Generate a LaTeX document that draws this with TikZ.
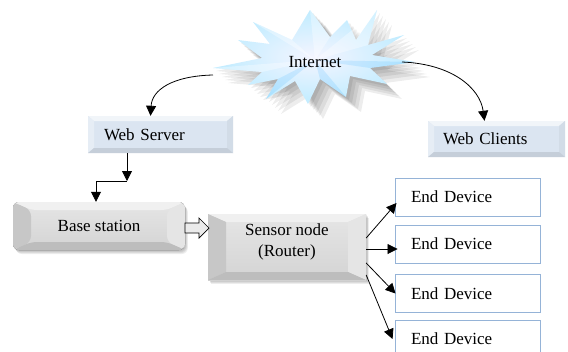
\documentclass[tikz,border=0pt]{standalone}
\usepackage{fontspec}
\setmainfont{Liberation Serif}
\newfontfamily\tnr{Liberation Serif}
\usetikzlibrary{arrows.meta,calc}
\definecolor{edgeblue}{HTML}{95B3D7}
\definecolor{wsblue}{HTML}{DBE5F1}
\newcommand\inetstar{(213,68) -- (262,58) -- (238,40) -- (270,44) -- (253,22) -- (292,40) -- (310,10) -- (330,37) -- (347,20) -- (356,40) -- (377,10) -- (368,45) -- (404,35) -- (372,55) -- (415,62) -- (370,68) -- (387,84) -- (350,76) -- (346,97) -- (320,79) -- (308,104) -- (295,81) -- (266,99) -- (278,79) -- (248,85) -- (262,72) -- cycle}
\tikzset{
  bevel/.style n args={7}{path picture={
    \coordinate (NW) at (path picture bounding box.north west);
    \coordinate (NE) at (path picture bounding box.north east);
    \coordinate (SW) at (path picture bounding box.south west);
    \coordinate (SE) at (path picture bounding box.south east);
    \fill[#7] (SW) rectangle (NE);
    \fill[#3] (NW) -- (NE) -- ([shift={(-#1pt,-#2pt)}]NE) -- ([shift={(#1pt,-#2pt)}]NW) -- cycle;
    \fill[#4] (NW) -- ([shift={(#1pt,-#2pt)}]NW) -- ([shift={(#1pt,#2pt)}]SW) -- (SW) -- cycle;
    \fill[#5] (NE) -- ([shift={(-#1pt,-#2pt)}]NE) -- ([shift={(-#1pt,#2pt)}]SE) -- (SE) -- cycle;
    \fill[#6] (SW) -- ([shift={(#1pt,#2pt)}]SW) -- ([shift={(-#1pt,#2pt)}]SE) -- (SE) -- cycle;
  }},
  webbox/.style={inner ysep=0pt, align=left,
    bevel={6}{5}{white!60!wsblue}{white!30!wsblue}{black!4!wsblue}{black!10!wsblue}{fill=wsblue}},
  graybox/.style={inner sep=0pt, align=center,
    bevel={18}{8}{black!6}{black!22}{black!10}{black!26}{top color=black!10,bottom color=black!17}},
  enddev/.style={draw=edgeblue, line width=0.9pt, fill=white, align=left,
    minimum width=145pt, text width=113pt, inner xsep=16pt, minimum height=38pt},
  arr/.style={line width=0.8pt, -{Triangle[length=10pt,width=10pt]}},
  hollow/.style={draw=black, line width=0.7pt, fill=black!8}
}
\begin{document}
\begin{tikzpicture}[x=1pt,y=-1pt,font=\tnr\fontsize{17}{21}\selectfont]
\clip (0,0) rectangle (568,351);
\fill[white] (0,0) rectangle (568,351);

% Internet starburst with soft shadow
\foreach \s in {3,6,9,12,15}{
  \fill[black,opacity=0.07,shift={(\s,\s)}] \inetstar;
}
\shade[inner color=blue!4!white, outer color=blue!30!cyan!25!white] \inetstar;
\fill[white,opacity=0.35] (253,22) -- (292,40) -- (315,60) -- cycle;
\fill[white,opacity=0.35] (310,10) -- (330,37) -- (315,60) -- cycle;
\fill[white,opacity=0.35] (377,10) -- (368,45) -- (315,60) -- cycle;
\fill[white,opacity=0.35] (213,68) -- (262,72) -- (315,60) -- cycle;
\fill[blue!40!cyan,opacity=0.12] (346,97) -- (320,79) -- (315,60) -- cycle;
\fill[blue!40!cyan,opacity=0.12] (266,99) -- (278,79) -- (315,60) -- cycle;
\fill[blue!40!cyan,opacity=0.12] (415,62) -- (370,68) -- (315,60) -- cycle;
\node (inet) at (315,62) {Internet};

% shadows of gray boxes
\foreach \s in {1,2,3,4}{
  \fill[black,opacity=0.07,rounded corners=6pt] (13+\s*0.7,202+\s) rectangle (185+\s*0.7,250+\s);
  \fill[black,opacity=0.07] (208+\s*0.8,214+\s) rectangle (366+\s*0.8,280+\s);
}

% web boxes
\node[webbox, minimum width=145pt, text width=113pt, inner xsep=16pt, minimum height=37pt] (ws) at (160.5,134.5) {Web Server};
\node[webbox, minimum width=137pt, text width=107pt, inner xsep=15pt, minimum height=36pt] (wc) at (496.5,139) {Web Clients};

% gray boxes
\node[graybox, rounded corners=6pt, minimum width=172pt, minimum height=48pt] (bs) at (99,226) {Base station};
\node[graybox, minimum width=158pt, minimum height=66pt] (sn) at (287,247) {};
\node[align=center, inner sep=0pt] (snt) at ([yshift=5pt]sn.center) {Sensor node\\(Router)};

% end devices
\node[enddev] (ed1) at (467.5,197) {End Device};
\node[enddev] (ed2) at (467.5,244) {End Device};
\node[enddev] (ed3) at (467.5,293.5) {End Device};
\node[enddev] (ed4) at (467.5,339) {End Device};

% internet connectors
\coordinate (inetL) at (213,75);
\coordinate (inetR) at (402,62);
\draw[arr] (inetL) .. controls (172,76) and (152,90) .. ([xshift=-10pt]ws.north);
\draw[arr] (inetR) .. controls (452,64) and (480,88) .. ([xshift=-12pt]wc.north);

% web server to base station elbow
\coordinate (bend) at (127,181);
\draw[arr] ([xshift=-33.5pt]ws.south) -- (bend);
\draw[arr] (bend) -| ([xshift=-3pt]bs.north);

% hollow arrow base -> sensor
\draw[hollow] (185,223) -- (199,223) -- (199,218) -- (209,228) -- (199,238) -- (199,233) -- (185,233) -- cycle;

% sensor to end devices
\draw[arr] ([yshift=9pt]sn.east) -- ([xshift=2pt,yshift=-6pt]ed1.west);
\draw[arr] ([yshift=-2pt]sn.east) -- ([xshift=3pt,yshift=-5pt]ed2.west);
\draw[arr] ([yshift=-16pt]sn.east) -- ([xshift=1pt]ed3.west);
\draw[arr] ([yshift=-28pt]sn.east) -- ([xshift=-2pt]ed4.west);
\end{tikzpicture}
\end{document}
